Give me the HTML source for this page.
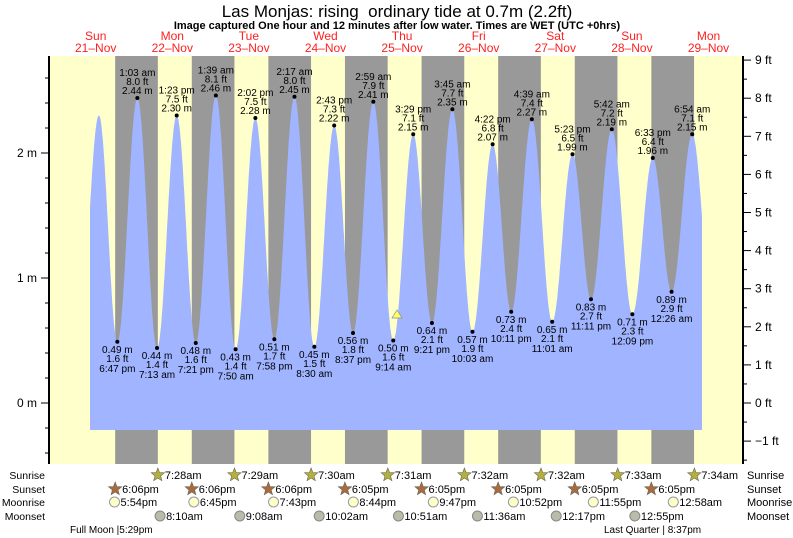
<!DOCTYPE html>
<html><head><meta charset="utf-8"><style>
body{margin:0;background:#fff;}
svg{display:block;font-family:"Liberation Sans",sans-serif;}
</style></head><body>
<svg id="s" width="793" height="538" xmlns="http://www.w3.org/2000/svg"></svg>
<script>
const s=document.getElementById('s');let h='';
const X=t=>134+t*3.1917, Y=m=>403-m*125;
h+='<rect x="49" y="56" width="694" height="408" fill="#ffffcc"/>';
for(let i=0;i<8;i++){const x1=X(-5.9+24*i),x2=X(7.47+24*i);h+=`<rect x="${x1}" y="56" width="${x2-x1}" height="408" fill="#999"/>`;}
const E=[[-17.3,0.5],[-11,2.30],[-5.22,.49,'6:47 pm'],[1.05,2.44,'1:03 am'],[7.22,.44,'7:13 am'],[13.38,2.30,'1:23 pm'],[19.35,.48,'7:21 pm'],[25.65,2.46,'1:39 am'],[31.83,.43,'7:50 am'],[38.03,2.28,'2:02 pm'],[43.97,.51,'7:58 pm'],[50.28,2.45,'2:17 am'],[56.5,.45,'8:30 am'],[62.72,2.22,'2:43 pm'],[68.62,.56,'8:37 pm'],[74.98,2.41,'2:59 am'],[81.23,.50,'9:14 am'],[87.48,2.15,'3:29 pm'],[93.35,.64,'9:21 pm'],[99.75,2.35,'3:45 am'],[106.05,.57,'10:03 am'],[112.37,2.07,'4:22 pm'],[118.18,.73,'10:11 pm'],[124.65,2.27,'4:39 am'],[131.02,.65,'11:01 am'],[137.38,1.99,'5:23 pm'],[143.18,.83,'11:11 pm'],[149.7,2.19,'5:42 am'],[156.15,.71,'12:09 pm'],[162.55,1.96,'6:33 pm'],[168.43,.89,'12:26 am'],[174.9,2.15,'6:54 am'],[181,0.85]];
function ht(t){for(let i=0;i<E.length-1;i++){const[a,ha]=E[i],[b,hb]=E[i+1];if(t>=a&&t<=b){const f=(1-Math.cos(Math.PI*(t-a)/(b-a)))/2;return ha+(hb-ha)*f;}}return 1;}
const t0=(90-134)/3.1917,t1=(702-134)/3.1917;let p=`M${X(t0)},430`;
for(let t=t0;t<=t1;t+=0.1)p+=`L${X(t).toFixed(1)},${Y(ht(t)).toFixed(1)}`;
p+=`L${X(t1)},${Y(ht(t1))}L${X(t1)},430Z`;
h+=`<path d="${p}" fill="#a0b4ff"/>`;
const T=(x,y,txt,o)=>`<text x="${x}" y="${y}" font-size="${o&&o.fs||10}" ${o&&o.a?'text-anchor="'+o.a+'"':'text-anchor="middle"'} fill="${o&&o.c||'#000'}" ${o&&o.w?'font-weight="bold"':''}>${txt}</text>`;
for(let i=2;i<E.length-1;i++){const[t,m,l]=E[i];const x=X(t),y=Y(m);const ft=(m/0.3048).toFixed(1)+' ft';h+=`<circle cx="${x}" cy="${y}" r="2" fill="#000"/>`;
if(m>1.5){h+=T(x,y-22,l)+T(x,y-13,ft)+T(x,y-4,m.toFixed(2)+' m');}else{h+=T(x,y+11,m.toFixed(2)+' m')+T(x,y+20,ft)+T(x,y+30,l);}}
h+='<polygon points="397,310 392,318 402,318" fill="#ffff66" stroke="#888" stroke-width="0.7"/>';
h+='<line x1="49" y1="56" x2="49" y2="464" stroke="#000" stroke-width="2"/><line x1="743" y1="56" x2="743" y2="464" stroke="#000" stroke-width="2"/>';
for(let y=53;y<=464;y+=25){if(y>=56)h+=`<line x1="45" y1="${y}" x2="49" y2="${y}" stroke="#000"/>`;}
for(let m=0;m<=2;m++){h+=`<line x1="41" y1="${Y(m)}" x2="49" y2="${Y(m)}" stroke="#000"/>`+T(37,Y(m)+4,m+' m',{fs:12,a:'end'});}
for(let f=-1.5;f<=9;f+=0.5){const y=403-f*38.1;const big=f%1==0;h+=`<line x1="743" y1="${y}" x2="${big?751:747}" y2="${y}" stroke="#000"/>`;if(big)h+=T(755,y+4,(f<0?'\u22121':f)+' ft',{fs:12,a:'start'});}
h+=T(397,17,'Las Monjas: rising&#160; ordinary tide at 0.7m (2.2ft)',{fs:17});
h+=T(397,29,'Image captured One hour and 12 minutes after low water. Times are WET (UTC +0hrs)',{fs:11,w:1});
const D=['Sun','Mon','Tue','Wed','Thu','Fri','Sat','Sun','Mon'];
for(let i=0;i<9;i++){const x=X(-12+24*i);h+=T(x,40,D[i],{fs:12,c:'#ff2020'})+T(x,52,(21+i)+'\u2013Nov',{fs:12,c:'#ff2020'});}
const L=[['Sunrise',479],['Sunset',493],['Moonrise',506],['Moonset',520]];
for(const[n,y]of L){h+=T(45,y,n,{fs:10.5,a:'end'})+T(747,y,n,{fs:11,a:'start'});}
function star(x,y,c){let pts='';for(let k=0;k<10;k++){const r=k%2?3:7,a=-Math.PI/2+k*Math.PI/5;pts+=(x+r*Math.cos(a)).toFixed(1)+','+(y+r*Math.sin(a)).toFixed(1)+' ';}return `<polygon points="${pts}" fill="${c}" stroke="#665" stroke-width="0.6"/>`;}
const hm=s=>{let[a,b]=s.slice(0,-2).split(':').map(Number);const pm=s.endsWith('pm');if(pm&&a!=12)a+=12;if(!pm&&a==12)a=0;return a+b/60;};
['7:28am','7:29am','7:30am','7:31am','7:32am','7:32am','7:33am','7:34am'].forEach((s,i)=>{const x=X(24*i+hm(s));h+=star(x,475,'#b5b03a')+T(x+7,479,s,{fs:11,a:'start'});});
['6:06pm','6:06pm','6:06pm','6:05pm','6:05pm','6:05pm','6:05pm','6:05pm'].forEach((s,i)=>{const x=X(24*(i-1)+hm(s));h+=star(x,489,'#a86a3e')+T(x+7,493,s,{fs:11,a:'start'});});
[[-1,'5:54pm'],[0,'6:45pm'],[1,'7:43pm'],[2,'8:44pm'],[3,'9:47pm'],[4,'10:52pm'],[5,'11:55pm'],[7,'12:58am']].forEach(([d,s])=>{const x=X(24*d+hm(s));h+=`<circle cx="${x}" cy="502" r="5" fill="#ffffcc" stroke="#999"/>`+T(x+6,506,s,{fs:11,a:'start'});});
['8:10am','9:08am','10:02am','10:51am','11:36am','12:17pm','12:55pm'].forEach((s,i)=>{const x=X(24*i+hm(s));h+=`<circle cx="${x}" cy="516" r="5" fill="#bbbbaa" stroke="#888"/>`+T(x+6,520,s,{fs:11,a:'start'});});
h+=T(70,533,'Full Moon |5:29pm',{fs:10,a:'start'})+T(604,533,'Last Quarter | 8:37pm',{fs:10,a:'start'});
s.innerHTML=h;
</script>
</body></html>
